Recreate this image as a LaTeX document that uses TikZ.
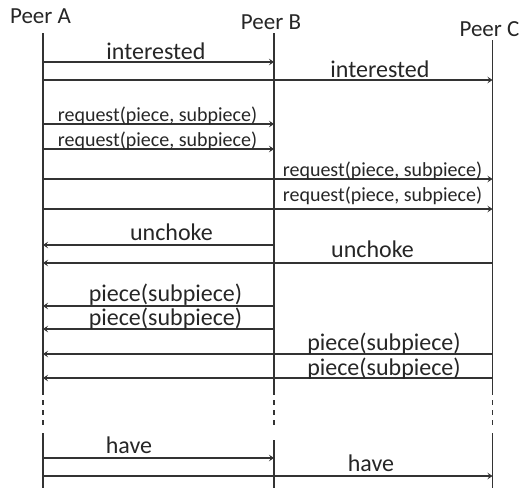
\documentclass[tikz,border=0pt]{standalone}
\usepackage{fontspec}
\setmainfont{Carlito}
\usetikzlibrary{arrows.meta}
\begin{document}
\begin{tikzpicture}[x=1pt,y=-1pt,
  life/.style={line width=1.2pt, draw=black!80},
  lifedash/.style={line width=1.2pt, draw=black!80, dash pattern=on 5pt off 5pt},
  msg/.style={line width=1.3pt, draw=black!80, -{Stealth[length=5pt,width=6.5pt,inset=2pt]}},
  lbl/.style={font=\fontsize{24}{24}\selectfont, text=black!85, inner sep=0pt, anchor=base},
  rlbl/.style={font=\fontsize{20}{20}\selectfont, text=black!85, inner sep=0pt, anchor=base},
  peer/.style={font=\fontsize{23}{23}\selectfont, text=black!85, inner sep=0pt, anchor=base}]
\useasboundingbox (0,0) rectangle (521,488);

% peers
\node[peer] (pA) at (40.5,23) {Peer A};
\node[peer] (pB) at (271,29.3) {Peer B};
\node[peer] (pC) at (489.5,36) {Peer C};

% lifeline anchors
\coordinate (LA) at (43,33);
\coordinate (LB) at (274,33);
\coordinate (LC) at (492.5,40);
\coordinate (s1) at (0,395);
\coordinate (d1) at (0,400);
\coordinate (d2) at (0,426);
\coordinate (s2) at (0,433);
\coordinate (s2b) at (0,440);
\coordinate (bot) at (0,488);

\draw[life] (LA) -- (LA |- s1);
\draw[lifedash] (LA |- d1) -- (LA |- d2);
\draw[life] (LA |- s2) -- (LA |- bot);
\draw[life] (LB) -- (LB |- s1);
\draw[lifedash] (LB |- d1) -- (LB |- d2);
\draw[life] (LB |- s2b) -- (LB |- bot);
\draw[life] (LC) -- (LC |- s1);
\draw[lifedash] (LC |- d1) -- (LC |- d2);
\draw[life] (LC |- s2) -- (LC |- bot);

% message levels
\coordinate (m1) at (0,62);
\coordinate (m2) at (0,80);
\coordinate (m3) at (0,124);
\coordinate (m4) at (0,149);
\coordinate (m5) at (0,179);
\coordinate (m6) at (0,209);
\coordinate (m7) at (0,245);
\coordinate (m8) at (0,263);
\coordinate (m9) at (0,306);
\coordinate (m10) at (0,329);
\coordinate (m11) at (0,354);
\coordinate (m12) at (0,378);
\coordinate (m13) at (0,458);
\coordinate (m14) at (0,476);

\draw[msg] (LA |- m1) -- (LB |- m1);
\draw[msg] (LA |- m2) -- (LC |- m2);
\draw[msg] (LA |- m3) -- (LB |- m3);
\draw[msg] (LA |- m4) -- (LB |- m4);
\draw[msg] (LA |- m5) -- (LC |- m5);
\draw[msg] (LA |- m6) -- (LC |- m6);
\draw[msg] (LB |- m7) -- (LA |- m7);
\draw[msg] (LC |- m8) -- (LA |- m8);
\draw[msg] (LB |- m9) -- (LA |- m9);
\draw[msg] (LB |- m10) -- (LA |- m10);
\draw[msg] (LC |- m11) -- (LA |- m11);
\draw[msg] (LC |- m12) -- (LA |- m12);
\draw[msg] (LA |- m13) -- (LB |- m13);
\draw[msg] (LA |- m14) -- (LC |- m14);

% labels
\node[lbl] (t1) at (156,59.3) {interested};
\node[lbl] (t2) at (380,77.3) {interested};
\node[rlbl] (t3) at (157.5,121.5) {request(piece, subpiece)};
\node[rlbl] (t4) at (157.5,146.7) {request(piece, subpiece)};
\node[rlbl] (t5) at (382.5,176.7) {request(piece, subpiece)};
\node[rlbl] (t6) at (382.5,201.7) {request(piece, subpiece)};
\node[lbl] (t7) at (171.5,240) {unchoke};
\node[lbl] (t8) at (372.5,257.3) {unchoke};
\node[lbl] (t9) at (165.5,301.7) {piece(subpiece)};
\node[lbl] (t10) at (165.5,325) {piece(subpiece)};
\node[lbl] (t11) at (384,350) {piece(subpiece)};
\node[lbl] (t12) at (384,375) {piece(subpiece)};
\node[lbl] (t13) at (129,453.3) {have};
\node[lbl] (t14) at (371,471.7) {have};
\end{tikzpicture}
\end{document}
